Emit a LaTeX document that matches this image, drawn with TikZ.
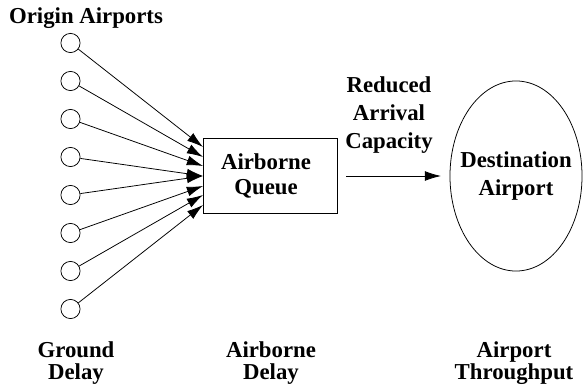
\documentclass[tikz,border=0pt]{standalone}
\usepackage{fontspec}
\setmainfont{Liberation Serif}
\usetikzlibrary{arrows.meta,shapes.geometric}

\tikzset{
    boldtext/.style={font=\bfseries\fontsize{16.2}{15.6}\selectfont,align=center,inner sep=0pt},
    origin/.style={circle,draw,minimum size=0.48cm,inner sep=0pt},
    flow/.style={-{Latex[length=11.5pt,width=7pt]},line width=0.55pt}
}

\begin{document}
\begin{tikzpicture}[x=0.025cm,y=-0.025cm,line width=0.55pt]
    \useasboundingbox (0,0) rectangle (583,386);

    \node[boldtext] (title) at (86,18) {Origin Airports};

    \node[draw,minimum width=3.35cm,minimum height=1.875cm] (queue) at (270,175.5) {};
    \node[boldtext] (queuetext) at (266,176) {Airborne\\[2.4pt]Queue};
    \node[draw,ellipse,minimum width=3.3cm,minimum height=4.75cm,inner sep=0pt] (dest) at (516,176) {};
    \node[boldtext] (desttext) at (516,176) {Destination\\[4.4pt]Airport};

    % origin airports and the queue entry points
    \foreach \i/\y/\t in {1/43/147,2/81/157,3/119/166,4/157/176,5/195/176,6/233/186,7/271/195,8/309/205} {
        \node[origin] (o\i) at (70.5,\y) {};
        \coordinate (t\i) at (203,\t);
        \draw[flow] (o\i) -- (t\i);
    }

    \coordinate (cap) at (346,176);
    \coordinate (capend) at (441,176);
    \draw[flow] (cap) -- (capend);

    \node[boldtext] (reduced) at (389,115) {Reduced\\[4.4pt]Arrival\\[4.4pt]Capacity};
    \node[boldtext] (ground) at (76,363) {Ground\\Delay};
    \node[boldtext] (airdelay) at (271,363) {Airborne\\Delay};
    \node[boldtext] (through) at (514,363) {Airport\\Throughput};
\end{tikzpicture}
\end{document}
